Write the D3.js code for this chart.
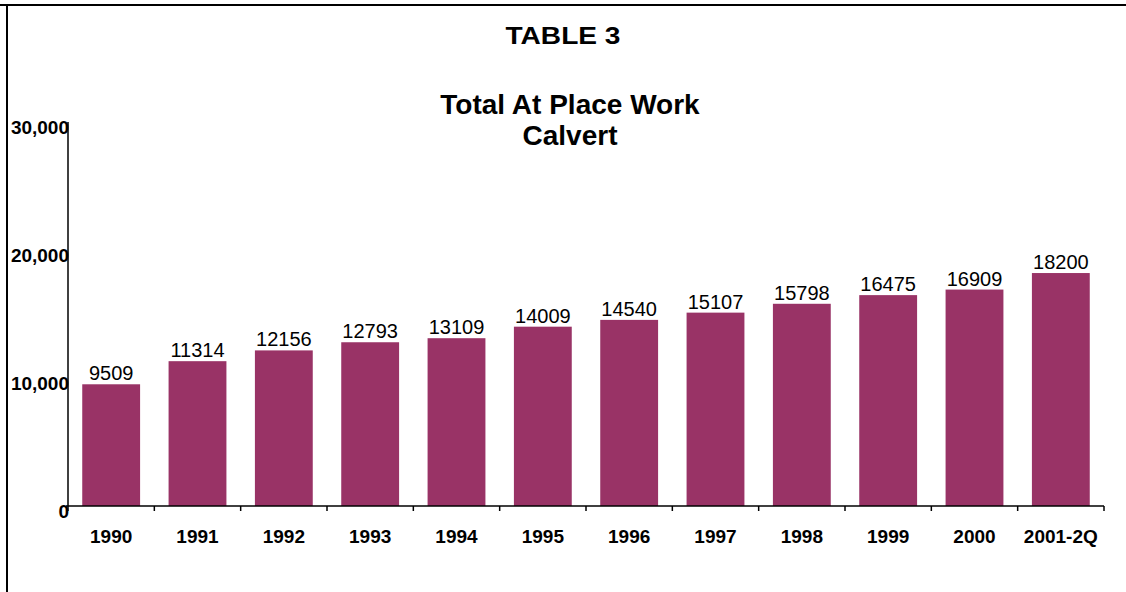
<!DOCTYPE html>
<html>
<head>
<meta charset="utf-8">
<script src="https://cdn.jsdelivr.net/npm/d3@7"></script>
<style>
  body { margin: 0; background: #fff; }
  svg { display: block; font-family: "Liberation Sans", Arial, sans-serif; }
</style>
</head>
<body>
<svg id="chart" width="1126" height="592"></svg>
<script>
// Data
const years = ["1990", "1991", "1992", "1993", "1994", "1995", "1996", "1997", "1998", "1999", "2000", "2001-2Q"];
const workers = [9509, 11314, 12156, 12793, 13109, 14009, 14540, 15107, 15798, 16475, 16909, 18200];
const yTicks = [0, 10000, 20000, 30000];

// Layout
const plotLeft = 68, plotRight = 1104, plotTop = 122, plotBottom = 506;
const barColor = "#993366";

const svg = d3.select("#chart");

// Frame (top and left edges only, like the source)
svg.append("line").attr("x1", 0).attr("x2", 1126).attr("y1", 5).attr("y2", 5)
    .attr("stroke", "#000").attr("stroke-width", 2);
svg.append("line").attr("x1", 7).attr("x2", 7).attr("y1", 4).attr("y2", 592)
    .attr("stroke", "#000").attr("stroke-width", 2);

// Scales
const x = d3.scaleBand().domain(years).range([plotLeft, plotRight])
    .paddingInner(0.33).paddingOuter(0.165);
const y = d3.scaleLinear().domain([0, 30000]).range([plotBottom, plotTop]);

// Titles
svg.append("text").attr("x", 563).attr("y", 43.5).attr("text-anchor", "middle")
    .attr("font-size", 23).attr("font-weight", "bold")
    .attr("textLength", 115).attr("lengthAdjust", "spacingAndGlyphs")
    .text("TABLE 3");
svg.append("text").attr("x", 570).attr("y", 114).attr("text-anchor", "middle")
    .attr("font-size", 28).attr("font-weight", "bold").text("Total At Place Work");
svg.append("text").attr("x", 570).attr("y", 145).attr("text-anchor", "middle")
    .attr("font-size", 28).attr("font-weight", "bold").text("Calvert");

// Bars
svg.selectAll(".bar").data(workers).enter().append("rect")
    .attr("class", "bar")
    .attr("x", (d, i) => x(years[i]))
    .attr("y", d => y(d))
    .attr("width", x.bandwidth())
    .attr("height", d => y(0) - y(d))
    .attr("fill", barColor);

// Value labels
svg.selectAll(".val").data(workers).enter().append("text")
    .attr("class", "val")
    .attr("x", (d, i) => x(years[i]) + x.bandwidth() / 2)
    .attr("y", d => y(d) - 4)
    .attr("text-anchor", "middle")
    .attr("font-size", 20)
    .text(d => d);

// Y axis labels
svg.selectAll(".ylab").data(yTicks).enter().append("text")
    .attr("class", "ylab")
    .attr("x", 69)
    .attr("y", d => y(d) + 12)
    .attr("text-anchor", "end")
    .attr("font-size", 19).attr("font-weight", "bold")
    .text(d => d3.format(",")(d));

// Y axis line
svg.append("line").attr("x1", plotLeft).attr("x2", plotLeft).attr("y1", plotTop).attr("y2", plotBottom)
    .attr("stroke", "#000").attr("stroke-width", 1.5);

// X axis line with ticks at category boundaries
svg.append("line").attr("x1", plotLeft - 2).attr("x2", plotRight).attr("y1", plotBottom).attr("y2", plotBottom)
    .attr("stroke", "#000").attr("stroke-width", 1.5);
const bounds = years.map(d => x(d) - x.step() * x.paddingInner() / 2).concat([plotRight]);
svg.selectAll(".xtick").data(bounds).enter().append("line")
    .attr("class", "xtick")
    .attr("x1", d => d).attr("x2", d => d)
    .attr("y1", plotBottom).attr("y2", plotBottom + 5)
    .attr("stroke", "#000").attr("stroke-width", 1.5);

// Category labels
svg.selectAll(".xlab").data(years).enter().append("text")
    .attr("class", "xlab")
    .attr("x", d => x(d) + x.bandwidth() / 2)
    .attr("y", 543)
    .attr("text-anchor", "middle")
    .attr("font-size", 19).attr("font-weight", "bold")
    .text(d => d);
</script>
</body>
</html>
